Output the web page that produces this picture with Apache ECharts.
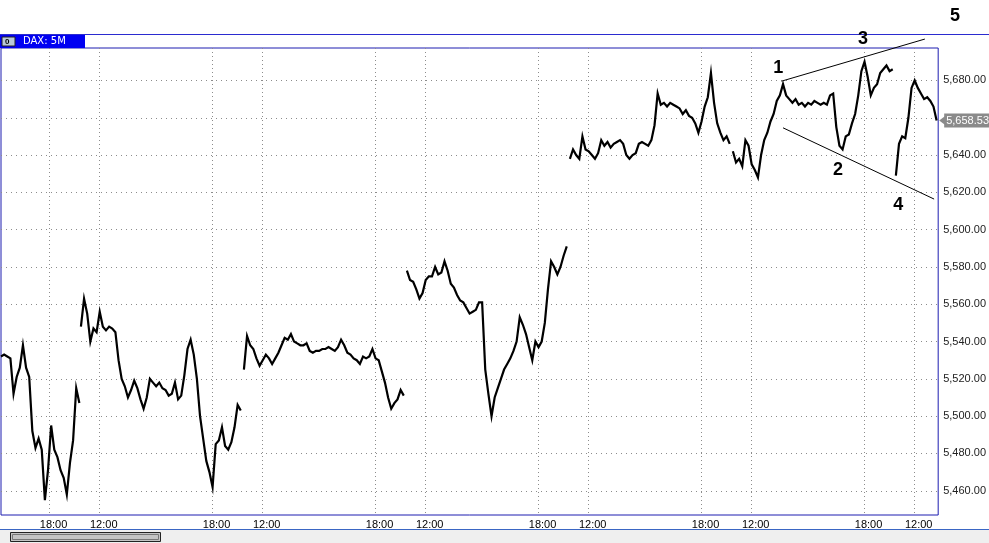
<!DOCTYPE html>
<html>
<head>
<meta charset="utf-8">
<title>DAX: 5M</title>
<script src="https://cdn.jsdelivr.net/npm/echarts@6/dist/echarts.min.js"></script>
<style>
  html, body { margin: 0; padding: 0; background: #fff; }
  #main { width: 989px; height: 543px; }
</style>
</head>
<body>
<div id="main"></div>
<script>
// 5 minute bars, 104 bars per trading day; x value = bar number
var sessionStart = [0, 51, 155, 259, 363, 467, 571];
var step = 2; // one reading every 2 bars

// closes, one array per session
var s0 = [5532, 5533, 5532, 5531, 5512, 5521, 5526, 5538, 5526, 5521, 5492, 5483, 5488, 5482, 5455, 5471,
          5495, 5482, 5478, 5471, 5467, 5458, 5475, 5487, 5515, 5507];
var s1 = [5548, 5563, 5555, 5540, 5547, 5545, 5556, 5548, 5546, 5548, 5547, 5545, 5530, 5520, 5516, 5510,
          5514, 5519, 5515, 5509, 5504, 5510, 5520, 5518, 5516, 5518, 5515, 5514, 5511, 5512, 5518, 5509,
          5511, 5522, 5536, 5541, 5533, 5520, 5500, 5488, 5476, 5470, 5462, 5485, 5487, 5494, 5484, 5482,
          5486, 5494, 5506, 5503];
var s2 = [5525, 5543, 5538, 5536, 5531, 5527, 5530, 5533, 5531, 5528, 5531, 5534, 5538, 5542, 5541, 5544,
          5540, 5539, 5538, 5538, 5539, 5535, 5534, 5535, 5535, 5536, 5536, 5537, 5536, 5535, 5537, 5541,
          5538, 5534, 5533, 5531, 5530, 5528, 5532, 5531, 5532, 5536, 5531, 5530, 5524, 5518, 5510, 5504,
          5507, 5509, 5514, 5511];
var s3 = [5578, 5573, 5572, 5568, 5563, 5566, 5573, 5575, 5575, 5580, 5576, 5577, 5583, 5578, 5571, 5569,
          5565, 5562, 5561, 5558, 5555, 5556, 5557, 5561, 5561, 5525, 5512, 5500, 5510, 5515, 5520, 5525,
          5528, 5531, 5535, 5540, 5553, 5549, 5544, 5537, 5530, 5540, 5537, 5540, 5550, 5568, 5583, 5580,
          5576, 5580, 5586, 5591];
var s4 = [5638, 5643, 5640, 5638, 5650, 5643, 5642, 5640, 5638, 5641, 5648, 5645, 5647, 5644, 5646, 5647,
          5648, 5646, 5640, 5638, 5640, 5641, 5646, 5647, 5646, 5645, 5648, 5656, 5673, 5667, 5668, 5666,
          5668, 5667, 5666, 5665, 5662, 5664, 5661, 5660, 5657, 5652, 5658, 5666, 5671, 5684, 5668, 5657,
          5652, 5648, 5650, 5646];
var s5 = [5642, 5636, 5638, 5634, 5648, 5645, 5635, 5632, 5628, 5640, 5648, 5652, 5658, 5662, 5669, 5672,
          5678, 5672, 5670, 5668, 5670, 5667, 5668, 5666, 5668, 5667, 5669, 5668, 5667, 5668, 5667, 5672,
          5673, 5655, 5645, 5643, 5650, 5651, 5657, 5662, 5672, 5685, 5690, 5682, 5672, 5676, 5678, 5684,
          5686, 5688, 5685, 5686];
var s6 = [5629, 5646, 5650, 5649, 5660, 5676, 5680, 5676, 5673, 5670, 5671, 5669, 5666, 5658.53];
var sessions = [s0, s1, s2, s3, s4, s5, s6];

var lastPrice = 5658.53;
var priceTicks = [5460, 5480, 5500, 5520, 5540, 5560, 5580, 5600, 5620, 5640, 5660, 5680];
var priceLabels = [5460, 5480, 5500, 5520, 5540, 5560, 5580, 5600, 5620, 5640, 5680];
var timeTickBars = [31, 63, 135, 167, 239, 271, 343, 375, 447, 479, 551, 583];
var timeTickLabels = ['18:00', '12:00', '18:00', '12:00', '18:00', '12:00',
                      '18:00', '12:00', '18:00', '12:00', '18:00', '12:00'];

// hand drawn trend lines and wave counts
var upperTrend = [[498, 5679.6], [589.5, 5702.2]];
var lowerTrend = [[499, 5654.6], [595.4, 5616.4]];
var waveNames = ['1', '2', '3', '4', '5'];
var waveBars = [496, 534, 550, 572.5, 608.8];
var wavePrices = [5686.6, 5632, 5702.2, 5613.1, 5714.5];

var FONT = "'Liberation Sans', Arial, sans-serif";
var FRAME = '#1c1cb0';

function fmtPrice(v) {
  return v.toLocaleString('en-US', { minimumFractionDigits: 2, maximumFractionDigits: 2 });
}

var chart = echarts.init(document.getElementById('main'));

var series = sessions.map(function (vals, k) {
  return {
    type: 'line',
    data: vals.map(function (v, i) { return [sessionStart[k] + i * step, v]; }),
    symbol: 'none',
    lineStyle: { color: '#000', width: 2.2, join: 'miter' },
    animation: false
  };
});

// last price tag on the right axis
series[6].markLine = {
  silent: true,
  symbol: 'none',
  lineStyle: { color: 'rgba(0,0,0,0)', width: 0 },
  label: {
    show: true, position: 'end', distance: 6,
    formatter: fmtPrice(lastPrice),
    color: '#fff', backgroundColor: '#8a8a8a',
    padding: [2, 3, 1, 2], fontSize: 11, fontFamily: FONT
  },
  data: [{ yAxis: lastPrice }]
};
series[6].markPoint = {
  silent: true,
  symbol: 'triangle', symbolRotate: 90, symbolSize: [9, 6], symbolOffset: [4, 0],
  itemStyle: { color: '#8a8a8a' },
  label: { show: false },
  data: [{ coord: [598, lastPrice] }]
};

[upperTrend, lowerTrend].forEach(function (t) {
  series.push({
    type: 'line', data: t, symbol: 'none', clip: false, animation: false,
    lineStyle: { color: '#000', width: 1 }
  });
});

series.push({
  type: 'scatter',
  data: waveNames.map(function (n, i) { return { name: n, value: [waveBars[i], wavePrices[i]] }; }),
  symbolSize: 0, clip: false, animation: false,
  itemStyle: { opacity: 1 },
  label: {
    show: true, position: 'inside', formatter: '{b}',
    color: '#000', fontSize: 18, fontWeight: 'bold', fontFamily: FONT, textBorderWidth: 0
  }
});

chart.setOption({
  animation: false,
  grid: { left: 1, right: 49, top: 48, bottom: 28, show: true, borderColor: FRAME, borderWidth: 1 },
  xAxis: {
    type: 'value', min: 0, max: 598,
    axisLine: { show: false },
    axisTick: { show: false, customValues: timeTickBars },
    axisLabel: {
      customValues: timeTickBars, margin: 4, padding: [0, 0, 0, 8],
      color: '#000', fontSize: 11, fontFamily: FONT,
      formatter: function (v) {
        var i = timeTickBars.indexOf(v);
        return i >= 0 ? timeTickLabels[i] : '';
      }
    },
    splitLine: { show: true, lineStyle: { color: '#8c8c8c', type: [1, 3] } }
  },
  yAxis: {
    type: 'value', position: 'right', min: 5447, max: 5697.4, scale: true,
    axisLine: { show: false },
    axisTick: { show: false, customValues: priceTicks },
    axisLabel: {
      customValues: priceLabels, margin: 5,
      color: '#222', fontSize: 11, fontFamily: FONT,
      formatter: fmtPrice
    },
    splitLine: { show: true, lineStyle: { color: '#8c8c8c', type: [1, 4] } }
  },
  graphic: [
    // window header
    { type: 'rect', shape: { x: 0, y: 34, width: 989, height: 1 }, style: { fill: '#2b2bd0' } },
    { type: 'rect', shape: { x: 0, y: 35, width: 85, height: 13 }, style: { fill: '#0000f2' } },
    { type: 'rect', shape: { x: 2, y: 37, width: 13, height: 9 }, style: { fill: '#b9c9d9', stroke: '#222', lineWidth: 1 } },
    { type: 'text', x: 5, y: 41.5, style: { text: '0', fill: '#000', font: 'bold 8px ' + FONT, verticalAlign: 'middle' } },
    { type: 'text', x: 23, y: 41.5, style: { text: 'DAX: 5M', fill: '#fff', font: "10px 'DejaVu Sans', sans-serif", verticalAlign: 'middle' } },
    // scroll bar at the bottom
    { type: 'rect', shape: { x: 0, y: 529, width: 989, height: 1 }, style: { fill: '#3a66c4' } },
    { type: 'rect', shape: { x: 0, y: 530, width: 989, height: 13 }, style: { fill: '#efefef' } },
    { type: 'rect', shape: { x: 10.5, y: 532.5, width: 150, height: 9 }, style: { fill: '#c4c4c4', stroke: '#222', lineWidth: 1 } },
    { type: 'rect', shape: { x: 12.5, y: 534.5, width: 146, height: 5 }, style: { fill: 'none', stroke: '#777', lineWidth: 1 } }
  ],
  series: series
});
</script>
</body>
</html>
